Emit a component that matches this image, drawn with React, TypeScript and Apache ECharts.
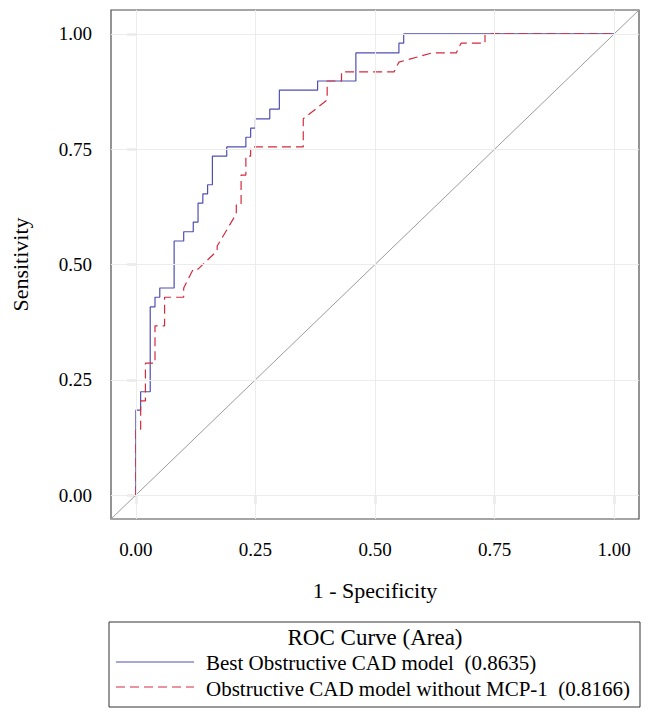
import React, { useEffect, useRef } from "react";
import * as echarts from "echarts";

// Best Obstructive CAD model ROC curve
const bestFpr = [0, 0, 0.01, 0.01, 0.03, 0.03, 0.04, 0.04, 0.05, 0.05, 0.08, 0.08, 0.10, 0.10, 0.12, 0.12, 0.13, 0.13, 0.14, 0.14, 0.15, 0.15, 0.16, 0.16, 0.19, 0.19, 0.23, 0.23, 0.24, 0.24, 0.25, 0.25, 0.28, 0.28, 0.30, 0.30, 0.38, 0.38, 0.46, 0.46, 0.55, 0.55, 0.56, 0.56, 1];
const bestSens = [0, 0.184, 0.184, 0.224, 0.224, 0.408, 0.408, 0.429, 0.429, 0.449, 0.449, 0.551, 0.551, 0.571, 0.571, 0.592, 0.592, 0.633, 0.633, 0.653, 0.653, 0.673, 0.673, 0.735, 0.735, 0.755, 0.755, 0.776, 0.776, 0.796, 0.796, 0.816, 0.816, 0.837, 0.837, 0.878, 0.878, 0.898, 0.898, 0.959, 0.959, 0.98, 0.98, 1, 1];

// Obstructive CAD model without MCP-1 ROC curve
const noMcpFpr = [0, 0, 0.01, 0.01, 0.02, 0.02, 0.04, 0.04, 0.06, 0.06, 0.10, 0.10, 0.12, 0.13, 0.17, 0.17, 0.21, 0.21, 0.22, 0.22, 0.23, 0.23, 0.24, 0.24, 0.35, 0.35, 0.40, 0.40, 0.43, 0.43, 0.54, 0.55, 0.62, 0.67, 0.68, 0.73, 0.73, 1];
const noMcpSens = [0, 0.143, 0.143, 0.204, 0.204, 0.286, 0.286, 0.367, 0.367, 0.429, 0.429, 0.449, 0.49, 0.49, 0.53, 0.54, 0.61, 0.629, 0.629, 0.694, 0.694, 0.735, 0.735, 0.755, 0.755, 0.816, 0.857, 0.898, 0.898, 0.918, 0.918, 0.939, 0.959, 0.959, 0.98, 0.98, 1, 1];

const tickValues = [0, 0.25, 0.5, 0.75, 1];
const axisMin = -0.052;
const axisMax = 1.052;

const seriesNames = [
  "Best Obstructive CAD model\u00a0 (0.8635)",
  "Obstructive CAD model without MCP-1\u00a0 (0.8166)",
];
const legendTitle = "ROC Curve (Area)";
const xName = "1 - Specificity";
const yName = "Sensitivity";

const FONT = "Liberation Serif, serif";
const BLUE = "#4f4fb3";
const RED = "#d42a3f";

export default function App() {
  const ref = useRef<HTMLDivElement>(null);
  useEffect(() => {
    if (!ref.current) return;
    const chart = echarts.init(ref.current, null, { renderer: "svg" });
    const zip = (xs: number[], ys: number[]) => xs.map((x, i) => [x, ys[i]]);
    const axisCommon = {
      type: "value" as const,
      min: axisMin,
      max: axisMax,
      nameLocation: "middle" as const,
      nameTextStyle: { fontFamily: FONT, fontSize: 22, color: "#000" },
      axisLine: { show: false },
      axisTick: {
        show: true,
        inside: false,
        length: 9,
        customValues: tickValues,
        lineStyle: { color: "#555", width: 1.2 },
      },
      axisLabel: {
        customValues: tickValues,
        formatter: (v: number) => v.toFixed(2),
        fontFamily: FONT,
        fontSize: 19,
        color: "#000",
      },
      splitLine: { show: false },
    };
    chart.setOption({
      animation: false,
      backgroundColor: "#fff",
      textStyle: { fontFamily: FONT },
      grid: {
        left: 111,
        right: 13,
        top: 10,
        bottom: 195,
        show: true,
        borderColor: "#4d4d4d",
        borderWidth: 1.2,
        backgroundColor: "transparent",
      },
      xAxis: {
        ...axisCommon,
        name: xName,
        nameGap: 60,
        axisLabel: { ...axisCommon.axisLabel, margin: 21 },
      },
      yAxis: {
        ...axisCommon,
        name: yName,
        nameGap: 80,
        axisLabel: { ...axisCommon.axisLabel, margin: 19 },
      },
      series: [
        {
          type: "line",
          data: [
            [axisMin, axisMin],
            [axisMax, axisMax],
          ],
          symbol: "none",
          silent: true,
          lineStyle: { color: "#9a9a9a", width: 1 },
          z: 1,
          markLine: {
            silent: true,
            symbol: "none",
            label: { show: false },
            lineStyle: { color: "#ececec", width: 1, type: "solid" },
            data: [
              ...tickValues.map((v) => ({ xAxis: v })),
              ...tickValues.map((v) => ({ yAxis: v })),
            ],
          },
        },
        {
          type: "line",
          name: seriesNames[0],
          data: zip(bestFpr, bestSens),
          symbol: "none",
          lineStyle: { color: BLUE, width: 1.2 },
          z: 3,
        },
        {
          type: "line",
          name: seriesNames[1],
          data: zip(noMcpFpr, noMcpSens),
          symbol: "none",
          lineStyle: { color: RED, width: 1.2, type: [9, 5] },
          z: 4,
        },
      ],
      graphic: [
        {
          type: "rect",
          shape: { x: 109, y: 622, width: 531, height: 85 },
          style: { fill: "none", stroke: "#333", lineWidth: 1 },
        },
        {
          type: "text",
          x: 375,
          y: 637,
          style: {
            text: legendTitle,
            fontFamily: FONT,
            fontSize: 23,
            fill: "#000",
            textAlign: "center",
            textVerticalAlign: "middle",
          },
        },
        {
          type: "line",
          shape: { x1: 116, y1: 662, x2: 194, y2: 662 },
          style: { stroke: BLUE, lineWidth: 1.2 },
        },
        {
          type: "text",
          x: 206,
          y: 663,
          style: {
            text: seriesNames[0],
            fontFamily: FONT,
            fontSize: 21,
            fill: "#000",
            textAlign: "left",
            textVerticalAlign: "middle",
          },
        },
        {
          type: "line",
          shape: { x1: 116, y1: 687, x2: 194, y2: 687 },
          style: { stroke: RED, lineWidth: 1.2, lineDash: [9, 5] },
        },
        {
          type: "text",
          x: 206,
          y: 689,
          style: {
            text: seriesNames[1],
            fontFamily: FONT,
            fontSize: 21,
            fill: "#000",
            textAlign: "left",
            textVerticalAlign: "middle",
          },
        },
      ],
    });
    return () => chart.dispose();
  }, []);
  return (
    <div
      ref={ref}
      style={{ position: "absolute", left: 0, top: 0, width: 652, height: 714 }}
    />
  );
}
